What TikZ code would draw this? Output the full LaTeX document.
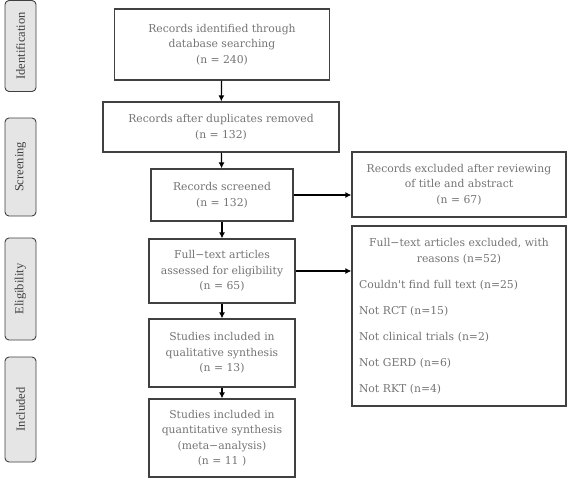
\documentclass[tikz,border=0pt]{standalone}
\usepackage{fontspec}
\setmainfont{DejaVu Serif}
\newfontfamily\phasefont{Liberation Serif}
\usetikzlibrary{positioning,arrows.meta}

\begin{document}
\begin{tikzpicture}[x=1pt, y=-1pt,
    every node/.style={font=\fontsize{10.8}{15.5}\selectfont, text=black!55},
    box/.style={draw=black!75, line width=1.2pt, rectangle, align=center, inner sep=2pt},
    phase/.style={draw=black!75, line width=0.9pt, fill=black!10, rounded corners=4pt, rotate=90, minimum height=31pt, font=\phasefont\fontsize{12.5}{14}\selectfont, text=black!75},
    arr/.style={-{Latex[length=6pt,width=6pt]}, line width=1.2pt, black}]
    \useasboundingbox (0,0) rectangle (568,480);

    % Phases
    \node[phase, minimum width=91pt] (identification) at (20.5,46) {Identification};
    \node[phase, minimum width=98pt] (screening) at (20.5,167) {Screening};
    \node[phase, minimum width=102pt] (eligibility) at (20.5,289) {Eligibility};
    \node[phase, minimum width=105pt] (included) at (20.5,409.5) {Included};

    % Main flow
    \node[box, minimum width=215pt, minimum height=71pt] (identified) at (222,44.5) {Records identified through\\database searching\\(n = 240)};
    \node[box, minimum width=236pt, minimum height=50pt] (duplicates) at (221,127) {Records after duplicates removed\\(n = 132)};
    \node[box, minimum width=142pt, minimum height=52pt] (screened) at (222,195) {Records screened\\(n = 132)};
    \node[box, minimum width=146pt, minimum height=64pt] (fulltext) at (222,271) {Full−text articles\\assessed for eligibility\\(n = 65)};
    \node[box, minimum width=146pt, minimum height=68pt] (qualitative) at (222,353) {Studies included in\\qualitative synthesis\\(n = 13)};
    \node[box, minimum width=146pt, minimum height=78pt] (quantitative) at (222,438) {Studies included in\\quantitative synthesis\\(meta−analysis)\\(n = 11 )};

    % Exclusions
    \node[box, minimum width=214pt, minimum height=65pt] (excl-title) at (459,184.5) {Records excluded after reviewing\\of title and abstract\\(n = 67)};
    \node[box, align=left, minimum width=214pt, minimum height=180pt, text width=200pt, inner sep=7pt] (excl-full) at (459,316) {{\centering Full−text articles excluded, with\\reasons (n=52)\par}\vspace{10.5pt}Couldn\textquotesingle t find full text (n=25)\\[10.5pt]Not RCT (n=15)\\[10.5pt]Not clinical trials (n=2)\\[10.5pt]Not GERD (n=6)\\[10.5pt]Not RKT (n=4)};

    \draw[arr] (identified) -- (duplicates);
    \draw[arr] (duplicates) -- (screened);
    \draw[arr] (screened) -- (fulltext);
    \draw[arr] (fulltext) -- (qualitative);
    \draw[arr] (qualitative) -- (quantitative);
    \draw[arr] (screened.east) -- (screened.east -| excl-title.west);
    \draw[arr] (fulltext.east) -- (fulltext.east -| excl-full.west);
\end{tikzpicture}
\end{document}
